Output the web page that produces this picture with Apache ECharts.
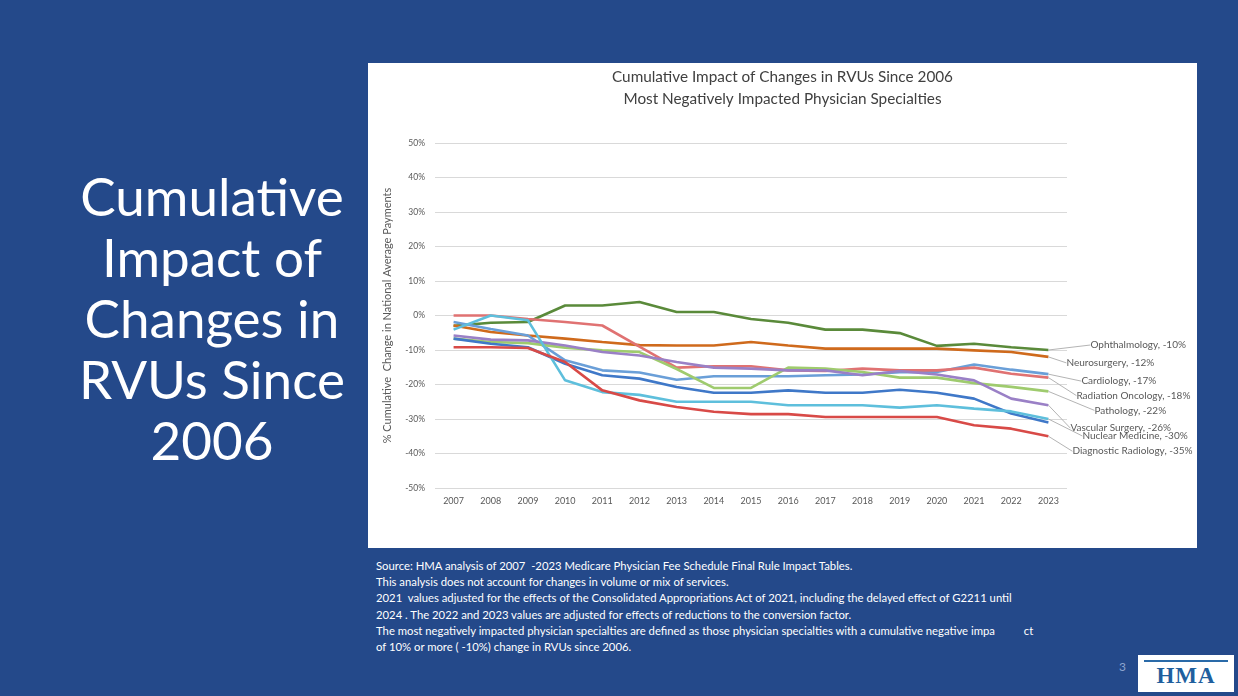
<!DOCTYPE html>
<html>
<head>
<meta charset="utf-8">
<script src="https://cdn.jsdelivr.net/npm/echarts@6/dist/echarts.min.js"></script>
<style>
  html, body { margin: 0; padding: 0; }
  body {
    width: 1238px; height: 696px; position: relative; overflow: hidden;
    background: #24498a; font-family: Lato, "Open Sans", sans-serif;
  }
  #slideTitle {
    position: absolute; left: 52px; top: 165px; width: 320px;
    text-align: center; color: #fff; font-size: 53px; line-height: 61px; font-weight: 400;
  }
  #chart {
    position: absolute; left: 368px; top: 63px; width: 829px; height: 485px;
    background: #fff;
  }
  #notes {
    position: absolute; left: 376px; top: 558px; color: #fff;
    font-size: 11.3px; line-height: 16.2px; white-space: pre;
  }
  #page {
    position: absolute; left: 1119px; top: 659px; color: #8ea6cf; font-size: 12px;
  }
  #logo {
    position: absolute; left: 1138px; top: 655px; width: 96px; height: 37px;
    background: #fff;
  }
  #logo .rule { position: absolute; left: 6px; right: 6px; top: 5px; height: 2px; background: #2a6aa8; }
  #logo .txt {
    position: absolute; left: 0; right: 0; top: 8px; text-align: center;
    font-family: "Liberation Serif", "DejaVu Serif", serif; font-weight: bold;
    font-size: 23px; letter-spacing: 1px; color: #1f5f9e;
  }
</style>
</head>
<body>
<div id="slideTitle">Cumulative<br>Impact of<br>Changes in<br>RVUs Since<br>2006</div>
<div id="chart"></div>
<div id="notes">Source: HMA analysis of 2007  -2023 Medicare Physician Fee Schedule Final Rule Impact Tables.
This analysis does not account for changes in volume or mix of services.
2021  values adjusted for the effects of the Consolidated Appropriations Act of 2021, including the delayed effect of G2211 until
2024 . The 2022 and 2023 values are adjusted for effects of reductions to the conversion factor.
The most negatively impacted physician specialties are defined as those physician specialties with a cumulative negative impa          ct
of 10% or more ( -10%) change in RVUs since 2006.</div>
<div id="page">3</div>
<div id="logo"><div class="rule"></div><div class="txt">HMA</div></div>

<script>
// Years on the category axis
const years = ['2007','2008','2009','2010','2011','2012','2013','2014','2015','2016','2017','2018','2019','2020','2021','2022','2023'];

// Cumulative % change in national average payments, by specialty
const ophthalmology       = [-3, -2.1, -1.9, 2.9, 2.9, 3.9, 1, 1, -1, -2.1, -4.1, -4.1, -5.1, -8.8, -8.2, -9.2, -10];
const neurosurgery        = [-2.9, -4.8, -5.8, -6.7, -7.7, -8.6, -8.7, -8.7, -7.7, -8.7, -9.6, -9.6, -9.6, -9.6, -10.1, -10.6, -12];
const cardiology          = [-1.9, -3.9, -5.8, -13, -15.9, -16.5, -18.6, -17.6, -17.6, -17.6, -17.3, -17.1, -16.4, -16.4, -14.2, -15.7, -17];
const radiationOncology   = [0, 0, -1, -1.9, -2.9, -9, -15.1, -14.7, -14.7, -15.9, -16.1, -15.4, -15.9, -15.9, -15.1, -16.9, -18];
const pathology           = [-6.7, -7.7, -8, -9.3, -10.1, -10.6, -15.5, -21, -21, -15.1, -15.4, -16.4, -18, -18, -19.6, -20.7, -22];
const vascularSurgery     = [-5.8, -7, -7.2, -8.7, -10.6, -11.6, -13.5, -15.1, -15.4, -15.9, -15.9, -17.3, -16.1, -17.1, -18.8, -24.1, -26];
const otherSpecialty      = [-6.7, -8.2, -9.2, -14, -17.3, -18.3, -20.7, -22.4, -22.4, -21.7, -22.4, -22.4, -21.5, -22.4, -24.1, -28.4, -31];
const nuclearMedicine     = [-4.1, 0, -1.4, -18.8, -22.2, -23, -25, -25, -25, -26, -26, -26, -26.7, -26, -27, -27.8, -30];
const diagnosticRadiology = [-9.2, -9.2, -9.4, -13.5, -21.7, -24.6, -26.5, -27.9, -28.6, -28.6, -29.4, -29.4, -29.4, -29.4, -31.8, -32.8, -35];

// Y axis ticks (percent)
const yMin = -50, yMax = 50, yStep = 10;

// name, values, colour, end-label offset (dx, dy) or null for no end label
const specialties = [
  ['Ophthalmology',        ophthalmology,       '#5a8a3a', [37, -5]],
  ['Neurosurgery',         neurosurgery,        '#cf6a1c', [13, 6]],
  ['Cardiology',           cardiology,          '#6a9fd8', [28, 7]],
  ['Radiation Oncology',   radiationOncology,   '#e07272', [23, 18]],
  ['Pathology',            pathology,           '#9fcb6e', [41, 19]],
  ['Vascular Surgery',     vascularSurgery,     '#9a80c6', [17, 23]],
  ['Other',                otherSpecialty,      '#3f78c8', null],
  ['Nuclear Medicine',     nuclearMedicine,     '#5ebfdc', [29, 17]],
  ['Diagnostic Radiology', diagnosticRadiology, '#d84a47', [19, 15]]
];

const textColor = '#595959';
const font = 'Lato, "Open Sans", sans-serif';

const series = specialties.map(([name, values, color, off]) => {
  const last = values.length - 1;
  return {
    name: name,
    type: 'line',
    data: values.map((v, i) => (i === last && off)
      ? { value: v, label: { show: true } }
      : v),
    symbol: 'circle',
    symbolSize: 0,
    showSymbol: true,
    showAllSymbol: true,
    lineStyle: { color: color, width: 2.6 },
    itemStyle: { color: color },
    label: {
      show: false,
      position: 'right',
      distance: 5,
      color: textColor,
      fontFamily: font,
      fontSize: 10,
      formatter: p => `${p.seriesName}, ${p.value}%`
    },
    labelLine: { show: true, lineStyle: { color: '#b4b4b4', width: 1 } },
    labelLayout: off ? { dx: off[0], dy: off[1] } : undefined,
    emphasis: { disabled: true }
  };
});

const chart = echarts.init(document.getElementById('chart'), null, { renderer: 'canvas' });
chart.setOption({
  animation: false,
  backgroundColor: '#fff',
  title: {
    text: 'Cumulative Impact of Changes in RVUs Since 2006\nMost Negatively Impacted Physician Specialties',
    left: 'center',
    top: -2,
    textStyle: { color: '#404040', fontFamily: font, fontSize: 15.3, fontWeight: 'normal', lineHeight: 22 }
  },
  grid: { left: 67, right: 130, top: 80, bottom: 60 },
  xAxis: {
    type: 'category',
    data: years,
    boundaryGap: true,
    axisLine: { show: false },
    axisTick: { show: false },
    axisLabel: { color: textColor, fontFamily: font, fontSize: 9, margin: 9 }
  },
  yAxis: {
    type: 'value',
    min: yMin, max: yMax, interval: yStep,
    name: '% Cumulative  Change in National Average Payments',
    nameLocation: 'middle',
    nameRotate: 90,
    nameGap: 42,
    nameTextStyle: { color: textColor, fontFamily: font, fontSize: 11 },
    axisLine: { show: false },
    axisTick: { show: false },
    axisLabel: { color: textColor, fontFamily: font, fontSize: 8.5, margin: 10, formatter: v => v + '%' },
    splitLine: { lineStyle: { color: '#d9d9d9', width: 1 } }
  },
  series: series
});
</script>
</body>
</html>
